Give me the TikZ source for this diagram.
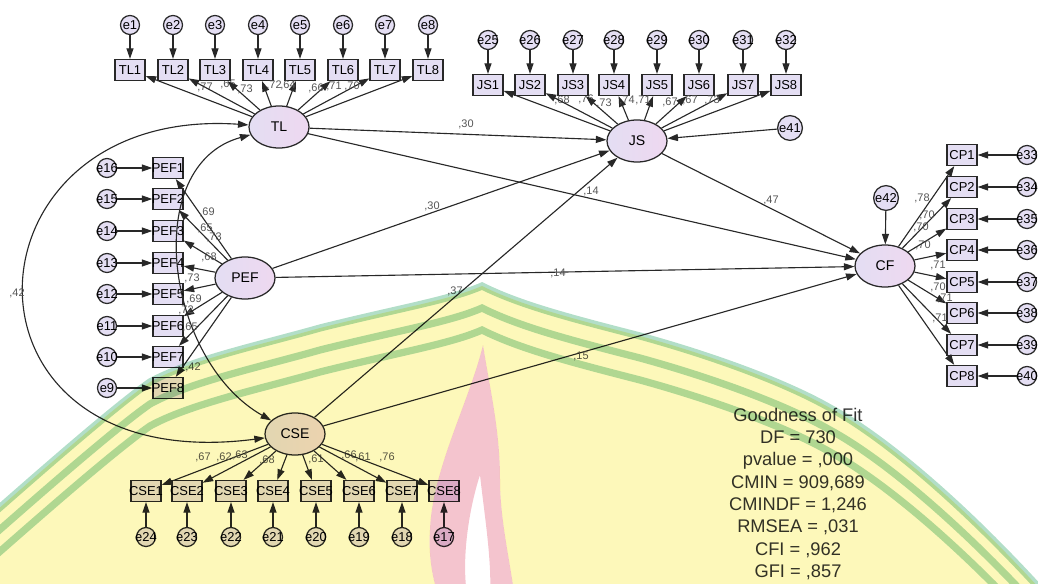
\documentclass[tikz,border=0pt]{standalone}
\usepackage{fontspec}
\setmainfont{Liberation Sans}
\usetikzlibrary{arrows.meta,shapes.geometric}

\definecolor{lavender}{RGB}{228,222,243}
\definecolor{lavendertwo}{RGB}{238,216,240}
\definecolor{edgegray}{RGB}{40,40,40}
\definecolor{coefgray}{RGB}{85,85,85}
\definecolor{wmyellow}{RGB}{253,248,186}
\definecolor{wmgreen}{RGB}{178,222,200}
\definecolor{wmpink}{RGB}{244,196,206}

\tikzset{
    latent/.style={ellipse, draw=edgegray, line width=0.9pt,
                   left color=lavender, right color=lavendertwo,
                   minimum width=1.5cm, minimum height=1.05cm, inner sep=0pt,
                   font=\fontsize{10}{12}\selectfont},
    obsbox/.style={rectangle, draw=edgegray, line width=0.9pt, fill=lavender,
                   minimum width=0.75cm, minimum height=0.525cm, inner sep=0pt,
                   font=\fontsize{9.2}{11}\selectfont},
    errnode/.style={circle, draw=edgegray, line width=0.9pt, fill=lavender,
                    minimum size=0.475cm, inner sep=0pt,
                    font=\fontsize{9.2}{11}\selectfont},
    bigerr/.style={errnode, minimum size=0.62cm},
    link/.style={-{Triangle[length=7.5pt,width=5pt]}, line width=0.8pt, draw=edgegray},
    cov/.style={{Triangle[length=7.5pt,width=5pt]}-{Triangle[length=7.5pt,width=5pt]},
                line width=0.8pt, draw=edgegray},
    coef/.style={font=\fontsize{7.8}{9}\selectfont, text=coefgray, inner sep=0pt},
    fitnote/.style={font=\fontsize{13}{15.9}\selectfont, align=center, text=black!80},
}

% error -> indicator <- latent, with its loading
\newcommand{\indicator}[7]{
    \node[errnode] (#3) at (#4) {\makebox[0pt]{#3}};
    \node[obsbox] (#1) at (#2) {\makebox[0pt]{#1}};
    \draw[link] (#3) -- (#1);
    \draw[link] (#5) -- (#1);
    \node[coef] (c-#1) at (#7) {#6};
}
\newcommand{\domeband}{(-20,525) .. controls (20,490) and (110,410) .. (150,382)
    .. controls (190,360) and (260,345) .. (320,328)
    .. controls (400,308) and (450,300) .. (482,286)
    .. controls (520,305) and (570,318) .. (640,336)
    .. controls (720,358) and (790,385) .. (830,408)
    .. controls (880,435) and (960,500) .. (1050,600)}
\newcommand{\flameout}{(483,345) .. controls (470,400) and (432,470) .. (430,530)
    .. controls (428,560) and (434,584) .. (440,600) -- (515,600)
    .. controls (510,560) and (500,520) .. (500,480)
    .. controls (500,430) and (490,390) .. (483,345) -- cycle}

\begin{document}
\begin{tikzpicture}[x=0.025cm, y=-0.025cm]
    \path[use as bounding box] (0,0) rectangle (1038,584);

    % latent variables
    \node[latent] (TL) at (279,127) {TL};
    \node[latent] (JS) at (637,141) {JS};
    \node[latent] (PEF) at (245,278) {PEF};
    \node[latent] (CF) at (885,266) {CF};
    \node[latent] (CSE) at (295,434) {CSE};
    \node[bigerr] (e41) at (790,128) {e41};
    \node[bigerr] (e42) at (886,198) {e42};

    % TL
    \indicator{TL1}{130,70}{e1}{130,25}{TL}{,77}{205,87}
    \indicator{TL2}{173,70}{e2}{173,25}{TL}{,65}{228,84}
    \indicator{TL3}{215,70}{e3}{215,25}{TL}{,73}{245,89}
    \indicator{TL4}{258,70}{e4}{258,25}{TL}{,72}{274,85}
    \indicator{TL5}{300,70}{e5}{300,25}{TL}{,64}{288,85}
    \indicator{TL6}{343,70}{e6}{343,25}{TL}{,66}{316,88}
    \indicator{TL7}{385,70}{e7}{385,25}{TL}{,71}{334,86}
    \indicator{TL8}{428,70}{e8}{428,25}{TL}{,70}{352,86}

    % JS
    \indicator{JS1}{488,85}{e25}{488,40}{JS}{,68}{562,100}
    \indicator{JS2}{530,85}{e26}{530,40}{JS}{,76}{586,99}
    \indicator{JS3}{573,85}{e27}{573,40}{JS}{,73}{604,103}
    \indicator{JS4}{614,85}{e28}{614,40}{JS}{,74}{627,100}
    \indicator{JS5}{657,85}{e29}{657,40}{JS}{,71}{643,100}
    \indicator{JS6}{699,85}{e30}{699,40}{JS}{,67}{670,102}
    \indicator{JS7}{743,85}{e31}{743,40}{JS}{,67}{690,100}
    \indicator{JS8}{786,85}{e32}{786,40}{JS}{,73}{712,100}

    % PEF
    \indicator{PEF1}{168,168}{e16}{107,168}{PEF}{,69}{207,212}
    \indicator{PEF2}{168,199}{e15}{107,199}{PEF}{,65}{205,228}
    \indicator{PEF3}{168,231}{e14}{107,231}{PEF}{,73}{214,237}
    \indicator{PEF4}{168,263}{e13}{107,263}{PEF}{,68}{209,257}
    \indicator{PEF5}{168,294}{e12}{107,294}{PEF}{,73}{192,278}
    \indicator{PEF6}{168,326}{e11}{107,326}{PEF}{,69}{194,299}
    \indicator{PEF7}{168,357}{e10}{107,357}{PEF}{,72}{186,310}
    \indicator{PEF8}{168,388}{e9}{107,388}{PEF}{,65}{190,327}

    % CF
    \indicator{CP1}{962,155}{e33}{1027,155}{CF}{,78}{922,198}
    \indicator{CP2}{962,187}{e34}{1027,187}{CF}{,70}{927,215}
    \indicator{CP3}{962,219}{e35}{1027,219}{CF}{,70}{921,227}
    \indicator{CP4}{962,250}{e36}{1027,250}{CF}{,70}{923,245}
    \indicator{CP5}{962,282}{e37}{1027,282}{CF}{,71}{938,265}
    \indicator{CP6}{962,313}{e38}{1027,313}{CF}{,70}{938,287}
    \indicator{CP7}{962,345}{e39}{1027,345}{CF}{,71}{945,298}
    \indicator{CP8}{962,376}{e40}{1027,376}{CF}{,71}{940,318}

    % CSE
    \indicator{CSE1}{146,491}{e24}{146,537}{CSE}{,67}{203,457}
    \indicator{CSE2}{187,491}{e23}{187,537}{CSE}{,62}{224,457}
    \indicator{CSE3}{231,491}{e22}{231,537}{CSE}{,63}{240,455}
    \indicator{CSE4}{273,491}{e21}{273,537}{CSE}{,68}{267,460}
    \indicator{CSE5}{316,491}{e20}{316,537}{CSE}{,61}{316,459}
    \indicator{CSE6}{359,491}{e19}{359,537}{CSE}{,66}{349,455}
    \indicator{CSE7}{402,491}{e18}{402,537}{CSE}{,61}{363,457}
    \indicator{CSE8}{444,491}{e17}{444,537}{CSE}{,76}{387,457}

    % structural paths
    \draw[link] (TL) -- (JS);
    \node[coef] (c-tl-js) at (466,124) {,30};
    \draw[link] (TL) -- (CF);
    \node[coef] (c-tl-cf) at (591,191) {,14};
    \draw[link] (PEF) -- (JS);
    \node[coef] (c-pef-js) at (432,206) {,30};
    \draw[link] (PEF) -- (CF);
    \node[coef] (c-pef-cf) at (558,273) {,14};
    \draw[link] (CSE) -- (JS);
    \node[coef] (c-cse-js) at (455,291) {,37};
    \draw[link] (CSE) -- (CF);
    \node[coef] (c-cse-cf) at (581,356) {,15};
    \draw[link] (JS) -- (CF);
    \node[coef] (c-js-cf) at (771,200) {,47};
    \draw[link] (e41) -- (JS);
    \draw[link] (e42) -- (CF);

    % covariances
    \draw[cov] (TL) .. controls (-45,105) and (-60,480) .. (CSE);
    \node[coef] (c-outer) at (17,293) {,42};
    \draw[cov] (TL) .. controls (140,165) and (165,360) .. (CSE);
    \node[coef] (c-inner) at (193,367) {,42};

    \node[fitnote] (fit) at (798,494) {Goodness of Fit\\DF = 730\\pvalue = ,000\\
        CMIN = 909,689\\CMINDF = 1,246\\RMSEA = ,031\\CFI = ,962\\GFI = ,857};

    % watermark
    \begin{scope}[blend mode=multiply]
        \clip (0,0) rectangle (1038,584);
        \fill[wmyellow, even odd rule] \domeband -- (1050,600) -- (-20,600) -- cycle
            \flameout;
        \draw[wmgreen, line width=0.18cm] \domeband;
        \draw[wmgreen, line width=0.18cm, shift={(0,22)}] \domeband;
        \draw[wmgreen, line width=0.18cm, shift={(0,44)}] \domeband;
        \fill[wmpink, even odd rule] \flameout
            (468,600) .. controls (460,560) and (470,505) .. (480,475)
            .. controls (485,520) and (492,560) .. (490,600) -- cycle;
    \end{scope}
\end{tikzpicture}
\end{document}
